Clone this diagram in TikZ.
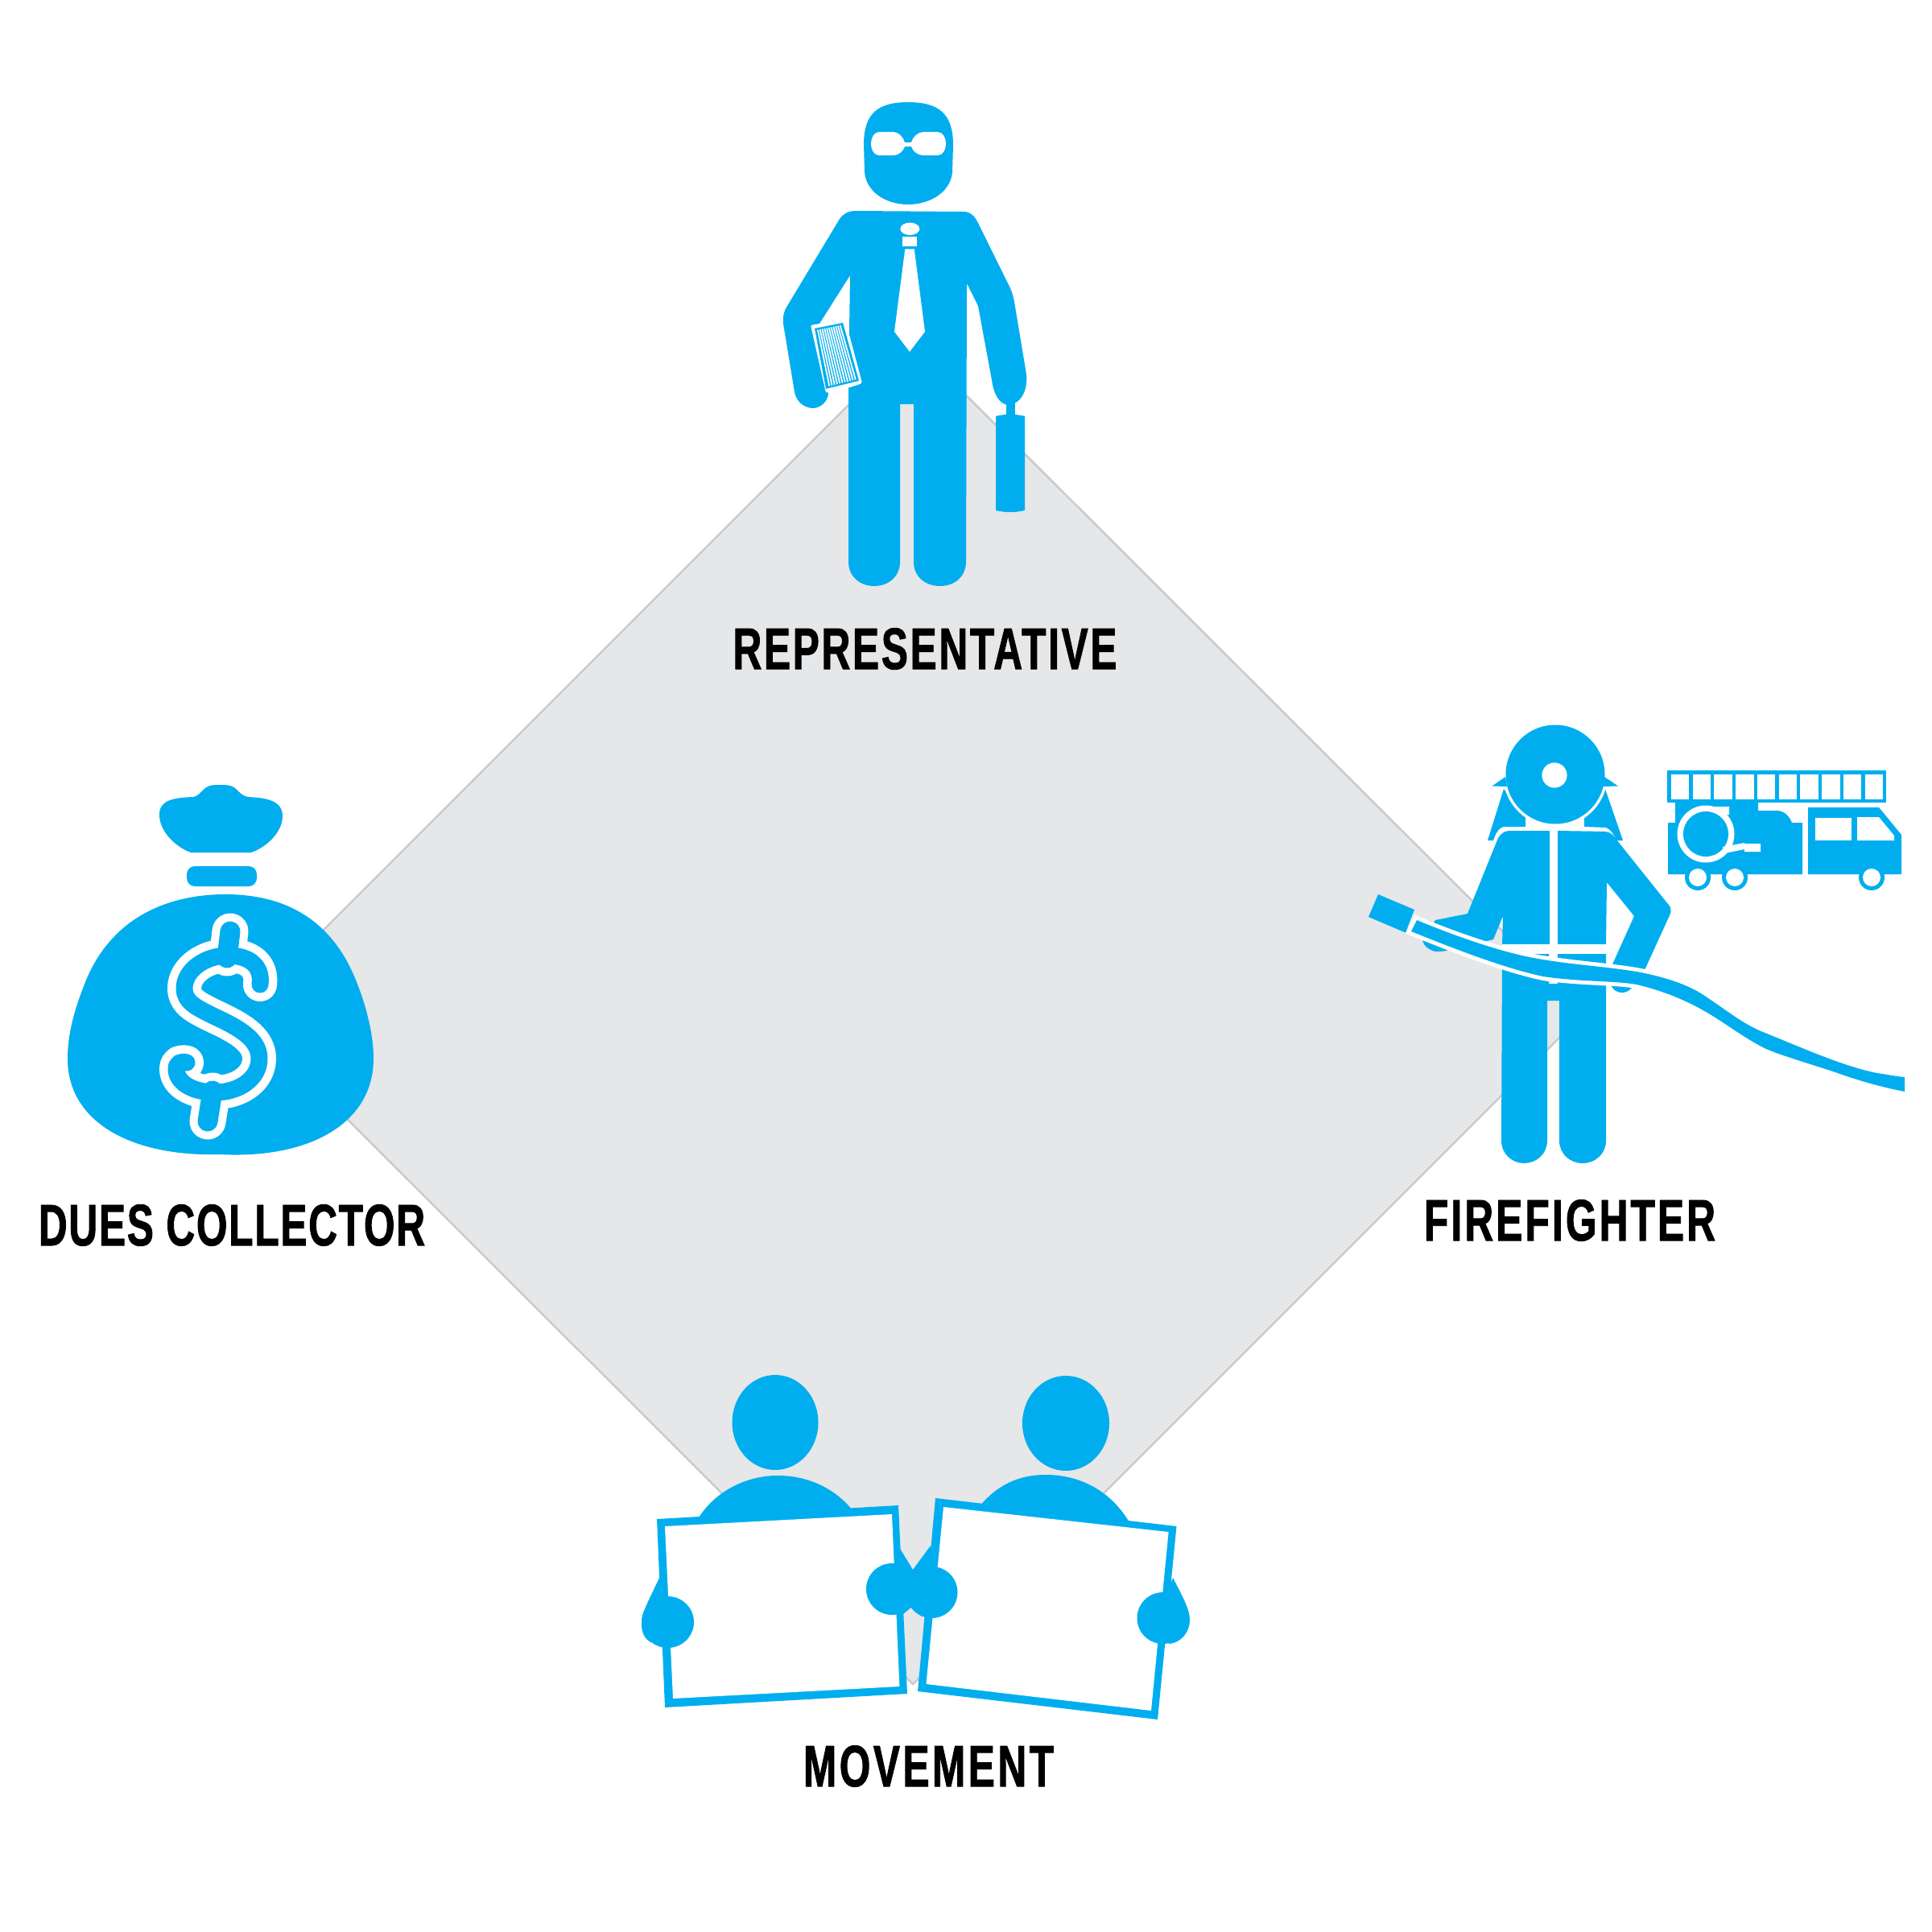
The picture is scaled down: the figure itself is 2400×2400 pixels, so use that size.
\documentclass[tikz,border=0pt]{standalone}
\usepackage{fontspec}
\usetikzlibrary{calc}
\newfontfamily\labfontA[FakeStretch=0.68,LetterSpace=3.8,FakeBold=1.2]{Liberation Sans Bold}
\newfontfamily\labfontB[FakeStretch=0.68,LetterSpace=2.5,FakeBold=1.2]{Liberation Sans Bold}
\newfontfamily\labfontC[FakeStretch=0.68,LetterSpace=4.4,FakeBold=1.2]{Liberation Sans Bold}
\newfontfamily\labfontD[FakeStretch=0.68,LetterSpace=4.9,FakeBold=1.2]{Liberation Sans Bold}
\definecolor{cy}{HTML}{00AEEF}
\definecolor{gr}{HTML}{E6E7E8}
\definecolor{ge}{HTML}{C9CACB}
\tikzset{
  ic/.style={fill=cy,draw=none},
  wh/.style={fill=white,draw=none},
  lab/.style={text=black,inner sep=0pt,anchor=center}
}
\begin{document}
\begin{tikzpicture}[x=0.01cm,y=-0.01cm]
\useasboundingbox (0,0) rectangle (2400,2400);
\fill[white] (0,0) rectangle (2400,2400);
% diamond
\draw[fill=gr,draw=ge,line width=0.7pt] (1133,424) -- (1968,1258) -- (1134,2092) -- (299,1258) -- cycle;

% ---------- representative
\fill[ic] (1128,127) .. controls (1090,127) and (1073,141) .. (1073,180) -- (1074,214)
  .. controls (1076,238) and (1100,254) .. (1128,254) .. controls (1156,254) and (1181,238) .. (1183,214)
  -- (1184,180) .. controls (1184,141) and (1166,127) .. (1128,127) -- cycle;
\fill[wh] (1092,164) -- (1110,164) .. controls (1116,164) and (1122,170) .. (1124,177) -- (1132,177)
  .. controls (1134,170) and (1140,164) .. (1147,164) -- (1165,164) .. controls (1171,164) and (1175,171) .. (1175,178)
  .. controls (1175,186) and (1171,193) .. (1165,193) -- (1147,193) .. controls (1140,193) and (1134,188) .. (1132,182)
  -- (1124,182) .. controls (1122,188) and (1116,193) .. (1110,193) -- (1092,193)
  .. controls (1086,193) and (1082,186) .. (1082,178) .. controls (1082,171) and (1086,164) .. (1092,164) -- cycle;
\fill[ic] (1063,262) -- (1197,263) .. controls (1206,263) and (1211,269) .. (1215,277) -- (1255,358)
  .. controls (1258,365) and (1259,370) .. (1260,375) -- (1275,465) .. controls (1277,485) and (1268,502) .. (1253,503)
  .. controls (1241,503) and (1234,488) .. (1232,472) -- (1215,380) -- (1201,352) -- (1200,698)
  .. controls (1200,716) and (1186,728) .. (1168,728) .. controls (1149,728) and (1135,716) .. (1135,698)
  -- (1135,502) -- (1118,502) -- (1118,698) .. controls (1118,716) and (1104,728) .. (1086,728)
  .. controls (1068,728) and (1054,716) .. (1054,698) -- (1054,480) -- (1056,342) -- (1018,402) -- (1029,489)
  .. controls (1028,500) and (1018,507) .. (1010,507) .. controls (998,507) and (989,498) .. (987,487)
  -- (973,402) .. controls (972,393) and (974,386) .. (978,380) -- (1043,272) .. controls (1048,265) and (1054,262) .. (1063,262) -- cycle;
% tie
\fill[wh] (1130.3,284.3) circle[x radius=12,y radius=7.7];
\fill[wh] (1121,294.3) rectangle (1139,305.7);
\fill[wh] (1124.3,309.3) -- (1135.7,309.3) -- (1149,412) -- (1130,437) -- (1111,412) -- cycle;
% book
\fill[wh,rounded corners=0.02cm] (1007,404) -- (1050,397) -- (1071,476) .. controls (1055,482) and (1040,485) .. (1026,488) -- cycle;
\coordinate (ba) at (1012,408); \coordinate (bb) at (1047,401);
\coordinate (bc) at (1067,473); \coordinate (bd) at (1026,483);
\fill[ic] (ba) -- (bb) -- (bc) -- (bd) -- cycle;
\foreach \t in {1,...,11}{
  \draw[white,line width=0.5pt] ($(ba)!{(\t+0.3)/12.6}!(bb)+(0.3,2.5)$) -- ($(bd)!{(\t+0.3)/12.6}!(bc)+(0,-2.5)$);
}
% briefcase
\fill[ic] (1250,500) rectangle (1261,516);
\fill[ic] (1237,517) .. controls (1250,514) and (1260,514) .. (1273,517) -- (1273,634)
  .. controls (1260,637) and (1250,637) .. (1237,634) -- cycle;

% ---------- dues collector
\fill[ic] (273,975) .. controls (265,975) and (260,975) .. (255,979) .. controls (248,985) and (246,989) .. (240,990)
  .. controls (215,991) and (198,994) .. (198,1012) .. controls (198,1034) and (220,1053) .. (237,1059)
  -- (312,1059) .. controls (330,1053) and (351,1034) .. (351,1014) .. controls (351,994) and (330,991) .. (308,990)
  .. controls (302,989) and (298,985) .. (292,979) .. controls (287,975) and (281,975) .. (273,975) -- cycle;
\fill[ic,rounded corners=0.1cm] (232,1076) rectangle (319,1101);
\fill[ic] (280,1111) .. controls (215,1111) and (140,1135) .. (106,1220) .. controls (92,1255) and (84,1285) .. (84,1315)
  .. controls (84,1395) and (165,1437) .. (273,1434) .. controls (385,1440) and (464,1395) .. (464,1315)
  .. controls (464,1285) and (455,1250) .. (443,1220) .. controls (410,1135) and (345,1111) .. (280,1111) -- cycle;
% dollar sign
\def\dollarS{(323,1223) .. controls (326,1200) and (310,1187) .. (283,1187) .. controls (255,1187) and (229,1205) .. (229,1228)
  .. controls (229,1245) and (245,1252) .. (265,1262) .. controls (295,1276) and (322,1290) .. (322,1315)
  .. controls (322,1340) and (297,1357) .. (267,1357) .. controls (240,1357) and (219,1345) .. (219,1328)
  .. controls (219,1320) and (225,1318) .. (232,1320)}
\draw[white,line width=0.42cm,line cap=round,line join=round] \dollarS;
\draw[white,line width=0.45cm,line cap=round] (282,1190) -- (286,1157);
\draw[white,line width=0.45cm,line cap=round] (264,1355) -- (258,1393);
\draw[cy,line width=0.21cm,line cap=round,line join=round] \dollarS;
\draw[cy,line width=0.25cm,line cap=round] (282,1190) -- (286,1157);
\draw[cy,line width=0.25cm,line cap=round] (264,1355) -- (258,1393);

% ---------- firefighter
\fill[ic] (1868,980) -- (1848,1044) -- (1855,1044) .. controls (1858,1035) and (1862,1028) .. (1868,1027) -- (1895,1027) -- (1895,1014) -- cycle;
\fill[ic] (1994,980) -- (2016,1044) -- (2008,1044) .. controls (2004,1035) and (2000,1030) .. (1995,1028) -- (1968,1027) -- (1968,1014) -- cycle;
\fill[wh] (1932,962) circle[radius=65];
\fill[ic] (1932,962) circle[radius=61.5];
\fill[ic] (1853.5,976.5) -- (1870,965) -- (1872,977) -- cycle;
\fill[ic] (2010,976.5) -- (1993,965) -- (1991,977) -- cycle;
\fill[wh] (1931,963) circle[x radius=15.6,y radius=15.6];
% jacket left + arm
\fill[ic] (1875,1032) -- (1925,1032) -- (1925,1173) -- (1866,1173) -- (1867,1138) -- (1855,1167) -- (1803,1179)
  .. controls (1795,1182) and (1790,1182) .. (1783,1182) .. controls (1775,1180) and (1768,1175) .. (1767,1167)
  -- (1783,1143) -- (1823,1135) -- (1861,1041) .. controls (1864,1036) and (1869,1032) .. (1875,1032) -- cycle;
% jacket right + arm
\fill[ic] (1935,1032) -- (1994,1033) .. controls (2000,1033) and (2005,1038) .. (2008,1043) -- (2072,1123)
  .. controls (2076,1127) and (2076,1131) .. (2075,1135) -- (2043,1205) -- (2003,1198) -- (2030,1138) -- (1996,1096)
  -- (1995,1173) -- (1935,1173) -- cycle;
% pants
\fill[wh] (1866,1173) rectangle (1995,1185);
\fill[wh] (1925,1185) rectangle (1935,1222);
\fill[ic] (1866,1185) -- (1924,1185) -- (1924,1222) -- (1935,1222) -- (1935,1185) -- (1995,1185) -- (1995,1417)
  .. controls (1995,1433) and (1982,1445) .. (1966,1445) .. controls (1950,1445) and (1937,1433) .. (1937,1417)
  -- (1937,1243) -- (1922,1243) -- (1922,1417) .. controls (1922,1433) and (1909,1445) .. (1893,1445)
  .. controls (1878,1445) and (1865,1433) .. (1865,1417) -- cycle;
% right hand
\fill[ic] (2015,1218) circle[radius=15];
% hose
\def\hosePath{(1760,1143) .. controls (1820,1168) and (1870,1183) .. (1900,1189) .. controls (1945,1198) and (1990,1200) .. (2033,1207)
  .. controls (2065,1213) and (2095,1222) .. (2116,1236) .. controls (2145,1255) and (2165,1272) .. (2190,1282)
  .. controls (2235,1300) and (2290,1325) .. (2332,1333) .. controls (2345,1335) and (2355,1337) .. (2366,1338)
  -- (2366,1356) .. controls (2340,1351) and (2310,1343) .. (2280,1332) .. controls (2250,1322) and (2215,1312) .. (2194,1303)
  .. controls (2165,1289) and (2140,1268) .. (2112,1253) .. controls (2085,1238) and (2055,1228) .. (2033,1223)
  .. controls (2005,1218) and (1965,1220) .. (1917,1213) .. controls (1870,1203) and (1810,1180) .. (1753,1157) -- cycle}
\path[draw=white,line width=0.1cm,line join=miter,fill=white] \hosePath;
\path[ic] \hosePath;
% nozzle
\fill[ic] (1712,1111) -- (1757,1130) -- (1746,1158.6) -- (1700,1139) -- cycle;
% truck ladder
\fill[ic] (2071,956.5) rectangle (2343,997);
\foreach \i in {0,...,9}{
  \fill[wh] ({2075.8+\i*26.75},961.5) rectangle ({2098.3+\i*26.75},993);
}
% truck body
\fill[ic] (2081,997) -- (2081,1022) -- (2072,1022) -- (2072,1086) -- (2239,1086) -- (2239,1022) -- (2226,1022)
  .. controls (2222,1012) and (2215,1007) .. (2207,1007) -- (2184,1007) -- (2184,997) -- cycle;
\fill[wh] (2119,1036) circle[radius=35.5];
\fill[ic] (2119,1036) circle[radius=28];
\fill[wh] (2120,1002) -- (2148,1002) -- (2148,1012) -- (2135,1012) -- cycle;
\fill[wh] (2140,1052) -- (2167,1047) -- (2167,1048) -- (2187,1048) -- (2187,1058) -- (2167,1058) -- (2167,1055) -- (2142,1060) -- cycle;
% wheels
\foreach \c in {2109,2155}{
  \fill[ic] (\c,1090) circle[radius=16];
  \fill[wh] (\c,1090) circle[radius=11];
}
% cab
\fill[ic] (2246,1003) -- (2334,1003) -- (2362,1037) -- (2362,1086) -- (2246,1086) -- cycle;
\fill[ic] (2325,1090) circle[radius=16];
\fill[wh] (2325,1090) circle[radius=11];
\fill[wh] (2255,1016) rectangle (2300,1044);
\fill[wh] (2307,1015) -- (2334,1015) -- (2353,1038) -- (2353,1044) -- (2307,1044) -- cycle;

% ---------- movement
\fill[ic] (963,1767) circle[x radius=53.5,y radius=59];
\fill[ic] (1324,1768) circle[x radius=54,y radius=59];
\fill[ic] (860,1900) .. controls (880,1855) and (925,1833) .. (966,1833) .. controls (1005,1833) and (1040,1850) .. (1062,1880) -- cycle;
\fill[ic] (1210,1880) .. controls (1235,1845) and (1265,1832) .. (1299,1832) .. controls (1345,1832) and (1385,1855) .. (1408,1900) -- cycle;
\fill[ic] (816,1887) -- (1116,1870) -- (1127,2104) -- (826,2121) -- cycle;
\fill[wh] (826,1896) -- (1108,1881) -- (1117.4,2095) -- (836,2110) -- cycle;
\fill[ic] (1162,1861) -- (1461.5,1896) -- (1438,2136) -- (1140,2101) -- cycle;
\fill[wh] (1172,1872) -- (1451.6,1903) -- (1430,2125) -- (1150.5,2092) -- cycle;
% arms and hands
\fill[ic] (820,1958) .. controls (805,1990) and (796,2005) .. (797,2018) .. controls (797,2030) and (802,2036) .. (808,2040) -- (830,2030) -- (826,1980) -- cycle;
\fill[ic] (829.5,2015) circle[x radius=32.5,y radius=32];
\fill[ic] (1117,1922) -- (1134,1950) -- (1134,1995) -- (1122,2005) -- (1108,1990) -- cycle;
\fill[ic] (1108,1974) circle[radius=32];
\fill[ic] (1156,1920) -- (1134,1950) -- (1131,1995) -- (1145,2008) -- (1160,1990) -- cycle;
\fill[ic] (1157.5,1978) circle[radius=32];
\fill[ic] (1457,1960) .. controls (1470,1985) and (1478,2000) .. (1478,2012) .. controls (1478,2025) and (1470,2040) .. (1452,2042) -- (1445,1990) -- cycle;
\fill[ic] (1444.5,2010) circle[radius=32];

% ---------- labels
\node[lab] (rep) at (1149,806) {\labfontA\fontsize{20.7}{24}\selectfont REPRESENTATIVE};
\node[lab] (dues) at (288,1522) {\labfontB\fontsize{20.7}{24}\selectfont DUES COLLECTOR};
\node[lab] (fire) at (1950,1516) {\labfontC\fontsize{20.7}{24}\selectfont FIREFIGHTER};
\node[lab] (move) at (1153.5,2194) {\labfontD\fontsize{20.7}{24}\selectfont MOVEMENT};
\end{tikzpicture}
\end{document}
